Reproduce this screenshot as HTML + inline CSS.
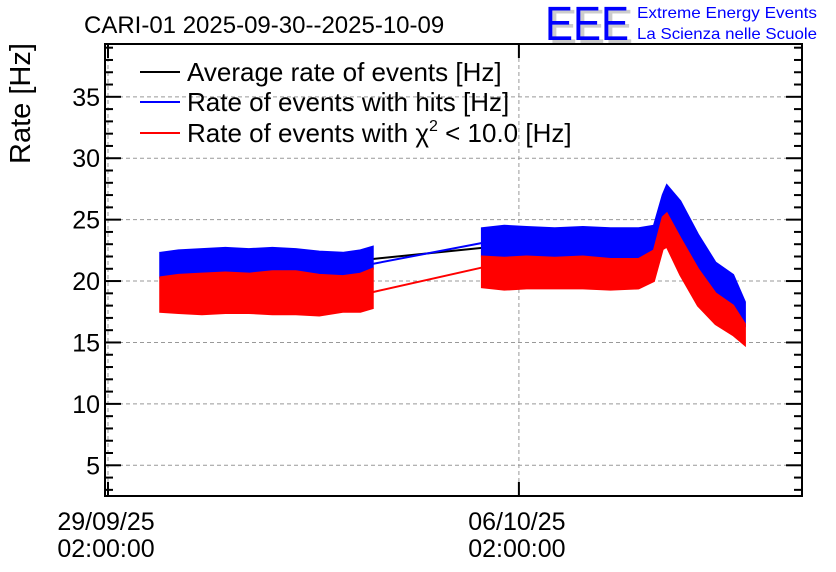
<!DOCTYPE html>
<html><head><meta charset="utf-8"><style>
body{margin:0;background:#fff;}
svg{display:block;font-family:"Liberation Sans",sans-serif;}
</style></head><body>
<svg id="chart" width="836" height="572" viewBox="0 0 836 572" xmlns="http://www.w3.org/2000/svg">
<rect width="836" height="572" fill="#fff"/>
<text x="84" y="33" font-size="24">CARI-01 2025-09-30--2025-10-09</text>
<g>
<text x="549" y="43" font-size="48" fill="#ccc" textLength="84" lengthAdjust="spacingAndGlyphs">EEE</text>
<text x="545" y="40" font-size="48" fill="#00f" textLength="84" lengthAdjust="spacingAndGlyphs">EEE</text>
<text x="637" y="18" font-size="16" fill="#00f" textLength="180" lengthAdjust="spacingAndGlyphs">Extreme Energy Events</text>
<text x="637" y="39" font-size="16" fill="#00f" textLength="180" lengthAdjust="spacingAndGlyphs">La Scienza nelle Scuole</text>
</g>
<text transform="translate(30,164) rotate(-90)" font-size="29">Rate [Hz]</text>
<g id="grid"></g>
<g id="series"></g>
<g id="axes"></g>
<g font-size="26">
<g><line x1="140" y1="72" x2="180" y2="72" stroke="#000" stroke-width="2"/><text x="187" y="81">Average rate of events [Hz]</text></g>
<g><line x1="140" y1="102" x2="180" y2="102" stroke="#00f" stroke-width="2"/><text x="187" y="111">Rate of events with hits [Hz]</text></g>
<g><line x1="140" y1="133" x2="180" y2="133" stroke="#f00" stroke-width="2"/><text x="187" y="142">Rate of events with χ<tspan font-size="16" dy="-11">2</tspan><tspan dy="11"> &lt; 10.0 [Hz]</tspan></text></g>
</g>
</svg>
<script>
// time in days since 29/09/25 02:00
const seg1Times=[0.89,1.2,1.6,2,2.4,2.8,3.2,3.6,4,4.3,4.51];
const seg1BlueHi=[22.3,22.5,22.6,22.7,22.6,22.7,22.6,22.4,22.3,22.5,22.8];
const seg1RedHi=[20.3,20.5,20.6,20.7,20.6,20.8,20.8,20.5,20.4,20.6,21.0];
const seg1RedLo=[17.5,17.4,17.3,17.4,17.4,17.3,17.3,17.2,17.5,17.5,17.8];
const seg2Times=[6.37,6.75,7.13,7.61,8.09,8.56,9.04,9.3,9.45,9.52,9.75,10.05,10.35,10.65,10.85];
const seg2BlueHi=[24.3,24.5,24.4,24.3,24.4,24.3,24.3,24.5,27.0,27.8,26.5,23.8,21.5,20.5,18.3];
const seg2RedHi=[22.0,21.9,22.0,21.9,22.0,21.8,21.8,22.5,25.2,25.5,23.5,21.0,19.0,18.0,16.5];
const seg2RedLo=[19.5,19.3,19.4,19.4,19.4,19.3,19.4,20.0,22.6,22.8,20.5,18.0,16.5,15.6,14.8];
const gapTimes=[4.51,6.37];
const gapAvg=[21.8,22.7];
const gapBlue=[21.4,23.1];
const gapRed=[19.1,21.1];
const yTicks=[5,10,15,20,25,30,35];
const xTickDays=[0,7];
const xTickLabels=[["29/09/25","02:00:00"],["06/10/25","02:00:00"]];

const L=105,R=802,T=44,B=496,yMin=2.5,yMax=39.3,xPx0=108,pxPerDay=58.7;
const sx=d=>xPx0+d*pxPerDay;
const sy=v=>B-(v-yMin)/(yMax-yMin)*(B-T);
const NS="http://www.w3.org/2000/svg";
function mk(tag,attrs,parent){const e=document.createElementNS(NS,tag);for(const k in attrs)e.setAttribute(k,attrs[k]);parent.appendChild(e);return e;}
const grid=document.getElementById('grid'),series=document.getElementById('series'),axes=document.getElementById('axes');

yTicks.forEach(v=>{
  const g=mk('line',{x1:L,x2:R,y1:sy(v),y2:sy(v),stroke:'#999','stroke-dasharray':'4,3'},grid);
  
  
});
xTickDays.forEach(d=>{
  const g=mk('line',{x1:sx(d),x2:sx(d),y1:T,y2:B,stroke:'#999','stroke-dasharray':'4,3'},grid);
  
  
});

function band(ts,hi,lo,color,name){
  let pts=ts.map((t,i)=>sx(t)+','+sy(hi[i]));
  for(let i=ts.length-1;i>=0;i--)pts.push(sx(ts[i])+','+sy(lo[i]));
  const p=mk('polygon',{points:pts.join(' '),fill:color,stroke:color,'stroke-width':2},series);
  
  
}
function line(ts,vs,color,name){
  const p=mk('polyline',{points:ts.map((t,i)=>sx(t)+','+sy(vs[i])).join(' '),fill:'none',stroke:color,'stroke-width':2},series);
  
  
}
line(gapTimes,gapAvg,'#000','average-gap-line');
line(gapTimes,gapBlue,'#00f','hits-gap-line');
line(gapTimes,gapRed,'#f00','chi2-gap-line');
band(seg1Times,seg1BlueHi,seg1RedHi,'#00f','hits-band-seg1');
band(seg2Times,seg2BlueHi,seg2RedHi,'#00f','hits-band-seg2');
band(seg1Times,seg1RedHi,seg1RedLo,'#f00','chi2-band-seg1');
band(seg2Times,seg2RedHi,seg2RedLo,'#f00','chi2-band-seg2');

const frame=mk('rect',{x:L,y:T,width:R-L,height:B-T,fill:'none',stroke:'#000','stroke-width':2},axes);


for(let v=3;v<=39;v++){
  const len=(v%5===0)?16:8;
  mk('line',{x1:L,x2:L+len,y1:sy(v),y2:sy(v),stroke:'#000','stroke-width':2},axes);
  mk('line',{x1:R,x2:R-len,y1:sy(v),y2:sy(v),stroke:'#000','stroke-width':2},axes);
}
yTicks.forEach(v=>{
  const t=mk('text',{x:100,y:sy(v)+9,'font-size':25,'text-anchor':'end'},axes);
  t.textContent=v;
  
  
});
xTickDays.forEach((d,i)=>{
  mk('line',{x1:sx(d),x2:sx(d),y1:B,y2:B-14,stroke:'#000','stroke-width':2},axes);
  mk('line',{x1:sx(d),x2:sx(d),y1:T,y2:T+14,stroke:'#000','stroke-width':2},axes);
  const t=mk('text',{x:sx(d)-2,y:530,'font-size':25,'text-anchor':'middle'},axes);
  
  
  const a=mk('tspan',{x:sx(d)-2,dy:0},t);a.textContent=xTickLabels[i][0];
  const b=mk('tspan',{x:sx(d)-2,dy:27},t);b.textContent=xTickLabels[i][1];
});
</script>
</body></html>
